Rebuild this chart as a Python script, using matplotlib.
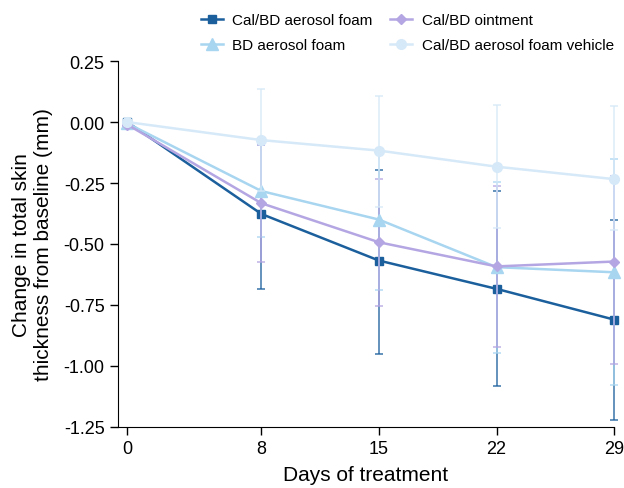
import matplotlib
matplotlib.use("Agg")
from matplotlib import pyplot as plt

plt.rcParams["font.family"] = ["Liberation Sans", "DejaVu Sans"]

days = [0, 8, 15, 22, 29]

LABELS = ["Cal/BD aerosol foam", "BD aerosol foam", "Cal/BD ointment", "Cal/BD aerosol foam vehicle"]

# mean change from baseline (mm)
cal_bd_foam = [0.0, -0.377, -0.568, -0.684, -0.81]
bd_foam = [-0.005, -0.283, -0.40, -0.595, -0.616]
cal_bd_oint = [-0.01, -0.333, -0.493, -0.592, -0.572]
vehicle = [0.0, -0.074, -0.117, -0.183, -0.234]

# error bar lengths (lower, upper)
cal_bd_foam_lo = [0.0, 0.307, 0.383, 0.40, 0.41]
cal_bd_foam_hi = [0.0, 0.307, 0.37, 0.40, 0.41]
bd_foam_lo = [0.0, 0.19, 0.29, 0.35, 0.464]
bd_foam_hi = [0.0, 0.19, 0.29, 0.35, 0.464]
cal_bd_oint_lo = [0.0, 0.24, 0.26, 0.33, 0.42]
cal_bd_oint_hi = [0.0, 0.24, 0.26, 0.33, 0.35]
vehicle_lo = [0.0, 0.21, 0.23, 0.25, 0.21]
vehicle_hi = [0.0, 0.21, 0.225, 0.253, 0.30]

series = [
    (cal_bd_foam, cal_bd_foam_lo, cal_bd_foam_hi, "#1b5f9c", "s", 6),
    (bd_foam, bd_foam_lo, bd_foam_hi, "#a8d5f0", "^", 8),
    (cal_bd_oint, cal_bd_oint_lo, cal_bd_oint_hi, "#b4a6e2", "D", 5.5),
    (vehicle, vehicle_lo, vehicle_hi, "#d6e9f8", "o", 7),
]
draw_order = [0, 2, 1, 3]

fig = plt.figure(figsize=(6.24, 4.89), dpi=100)
ax = fig.add_axes([0.189, 0.125, 0.795, 0.748])

handles = {}
for i in draw_order:
    y, lo, hi, c, m, ms = series[i]
    eb = ax.errorbar(days, y, yerr=[lo, hi], fmt="none", ecolor=c, elinewidth=1.2,
                     capsize=3, capthick=1.2, alpha=0.8, zorder=2 + i)
    for art in eb.lines[1] + eb.lines[2]:
        art.set_clip_on(False)
    line, = ax.plot(days, y, color=c, marker=m, markersize=ms, linewidth=1.8,
                    label=LABELS[i], zorder=3 + i, clip_on=False)
    handles[i] = line

ax.set_xlim(-0.55, 29)
ax.set_ylim(-1.25, 0.25)
ax.set_xticks(days)
ax.set_yticks([0.25, 0, -0.25, -0.5, -0.75, -1.0, -1.25])
ax.set_yticklabels(["0.25", "0.00", "-0.25", "-0.50", "-0.75", "-1.00", "-1.25"])
ax.tick_params(labelsize=13, width=1, length=6, direction="out")
ax.spines["top"].set_visible(False)
ax.spines["right"].set_visible(False)
ax.set_xlabel("Days of treatment", fontsize=15, labelpad=6)
ax.set_ylabel("Change in total skin\nthickness from baseline (mm)", fontsize=15, labelpad=8)

fig.legend([handles[0], handles[1], handles[2], handles[3]],
           [LABELS[0], LABELS[1], LABELS[2], LABELS[3]],
           ncol=2, loc="upper left", bbox_to_anchor=(0.322, 0.971), frameon=False,
           fontsize=11, borderpad=0, borderaxespad=0, handlelength=1.45,
           handletextpad=0.6, columnspacing=1.15, labelspacing=0.7)

fig.savefig("out.png", dpi=100)
